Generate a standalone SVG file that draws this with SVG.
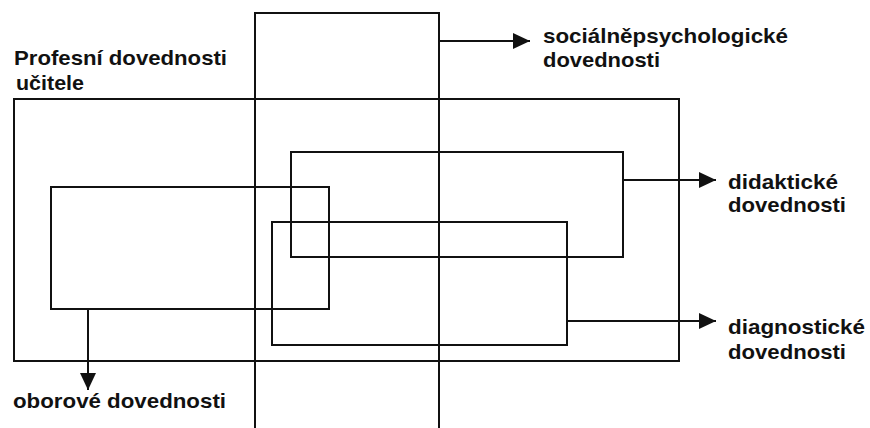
<svg xmlns="http://www.w3.org/2000/svg" width="870" height="428" viewBox="0 0 870 428">
<style>
.b{fill:none;stroke:#111;stroke-width:2}
.c{fill:none;stroke:#111;stroke-width:2}
text{font-family:"Liberation Sans",Arial,sans-serif;font-weight:bold;font-size:21px;fill:#111}
</style>
<defs>
<marker id="ah" markerUnits="userSpaceOnUse" markerWidth="18" markerHeight="16" refX="17" refY="8" orient="auto">
<path d="M0,0 L17,8 L0,16 Z" fill="#111"/>
</marker>
</defs>
<rect width="870" height="428" fill="#fff"/>
<g id="profesni">
<rect class="b" x="14" y="99" width="665" height="262"/>
<text x="14" y="65" textLength="213" lengthAdjust="spacingAndGlyphs">Profesní dovednosti</text>
<text x="16" y="90" textLength="68" lengthAdjust="spacingAndGlyphs">učitele</text>
</g>
<g id="socialnepsychologicke">
<path class="b" d="M255,430 V13 H439 V430"/>
<text x="543" y="43" textLength="245" lengthAdjust="spacingAndGlyphs">sociálněpsychologické</text>
<text x="543" y="67" textLength="117" lengthAdjust="spacingAndGlyphs">dovednosti</text>
</g>
<g id="didakticke">
<rect class="b" x="291" y="152" width="332" height="105"/>
<text x="728" y="189" textLength="110" lengthAdjust="spacingAndGlyphs">didaktické</text>
<text x="728" y="212" textLength="118" lengthAdjust="spacingAndGlyphs">dovednosti</text>
</g>
<g id="oborove">
<rect class="b" x="51" y="187" width="278" height="122"/>
<text x="13" y="408" textLength="213" lengthAdjust="spacingAndGlyphs">oborové dovednosti</text>
</g>
<g id="diagnosticke">
<rect class="b" x="272" y="222" width="295" height="123"/>
<text x="728" y="334" textLength="137" lengthAdjust="spacingAndGlyphs">diagnostické</text>
<text x="728" y="359" textLength="118" lengthAdjust="spacingAndGlyphs">dovednosti</text>
</g>
<g id="connectors">
<line class="c" x1="439" y1="41" x2="530" y2="41" marker-end="url(#ah)"/>
<line class="c" x1="623" y1="180" x2="716" y2="180" marker-end="url(#ah)"/>
<line class="c" x1="567" y1="321" x2="716" y2="321" marker-end="url(#ah)"/>
<line class="c" x1="88" y1="309" x2="88" y2="390" marker-end="url(#ah)"/>
</g>
</svg>
